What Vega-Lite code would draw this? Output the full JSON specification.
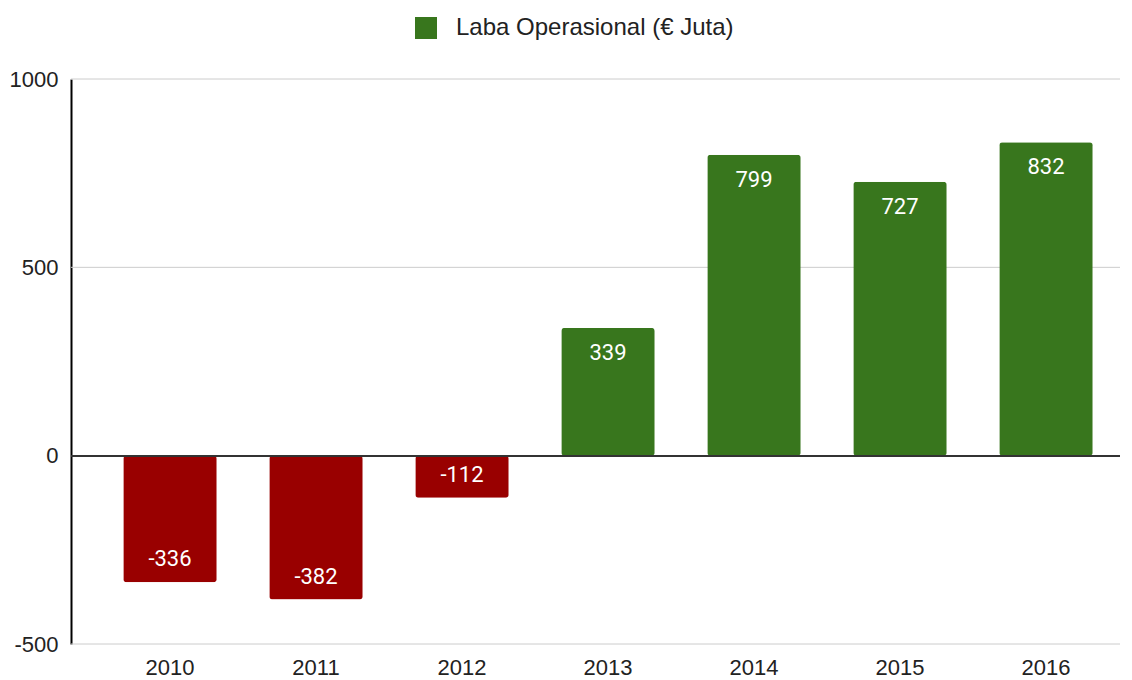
{
  "$schema": "https://vega.github.io/schema/vega-lite/v6.json",
  "width": 1049,
  "height": 565,
  "autosize": {"type": "none"},
  "padding": {"left": 71, "top": 79, "right": 12, "bottom": 36},
  "background": "white",
  "config": {
    "view": {"stroke": null},
    "font": "Liberation Sans"
  },
  "data": {
    "values": [
      {"year": "2010", "value": -336, "series": "Laba Operasional (€ Juta)"},
      {"year": "2011", "value": -382, "series": "Laba Operasional (€ Juta)"},
      {"year": "2012", "value": -112, "series": "Laba Operasional (€ Juta)"},
      {"year": "2013", "value": 339, "series": "Laba Operasional (€ Juta)"},
      {"year": "2014", "value": 799, "series": "Laba Operasional (€ Juta)"},
      {"year": "2015", "value": 727, "series": "Laba Operasional (€ Juta)"},
      {"year": "2016", "value": 832, "series": "Laba Operasional (€ Juta)"}
    ]
  },
  "encoding": {
    "x": {
      "field": "year",
      "type": "nominal",
      "sort": null,
      "scale": {"range": [26, 1048], "paddingInner": 0.36, "paddingOuter": 0.18},
      "axis": {
        "title": null,
        "labelAngle": 0,
        "domain": false,
        "ticks": false,
        "labelFontSize": 22,
        "labelColor": "#222222",
        "labelPadding": 13
      }
    },
    "y": {
      "field": "value",
      "type": "quantitative",
      "scale": {"domain": [-500, 1000], "nice": false},
      "axis": {
        "title": null,
        "values": [-500, 0, 500, 1000],
        "labelExpr": "'' + datum.value",
        "domain": true,
        "domainColor": "#000000",
        "domainWidth": 2,
        "ticks": false,
        "grid": false,
        "labelFontSize": 22,
        "labelColor": "#222222",
        "labelPadding": 13
      }
    }
  },
  "layer": [
    {
      "data": {"values": [{"g": -500}, {"g": 500}, {"g": 1000}]},
      "mark": {"type": "rule", "color": "#cccccc", "strokeWidth": 1},
      "encoding": {
        "y": {"field": "g", "type": "quantitative"},
        "x": {"value": 0},
        "x2": {"value": 1049}
      }
    },
    {
      "mark": {"type": "bar", "cornerRadius": 3},
      "encoding": {
        "color": {
          "condition": {"test": "datum.value < 0", "value": "#990000"},
          "field": "series",
          "type": "nominal",
          "scale": {"range": ["#38761d"]},
          "legend": {
            "title": null,
            "orient": "none",
            "legendX": 343,
            "legendY": -63,
            "symbolType": "square",
            "symbolSize": 484,
            "symbolStrokeWidth": 0,
            "labelFontSize": 24,
            "labelColor": "#222222",
            "labelOffset": 18,
            "labelLimit": 600
          }
        }
      }
    },
    {
      "mark": {"type": "rule", "color": "#333333", "strokeWidth": 1.5},
      "encoding": {"y": {"datum": 0}, "x": {"value": 0}, "x2": {"value": 1049}}
    },
    {
      "transform": [{"filter": "datum.value >= 0"}],
      "mark": {"type": "text", "color": "white", "font": "Roboto", "fontSize": 22, "baseline": "middle", "dy": 25},
      "encoding": {"text": {"field": "value", "type": "nominal"}}
    },
    {
      "transform": [{"filter": "datum.value < 0"}],
      "mark": {"type": "text", "color": "white", "font": "Roboto", "fontSize": 22, "baseline": "middle", "dy": -23},
      "encoding": {"text": {"field": "value", "type": "nominal"}}
    }
  ]
}
